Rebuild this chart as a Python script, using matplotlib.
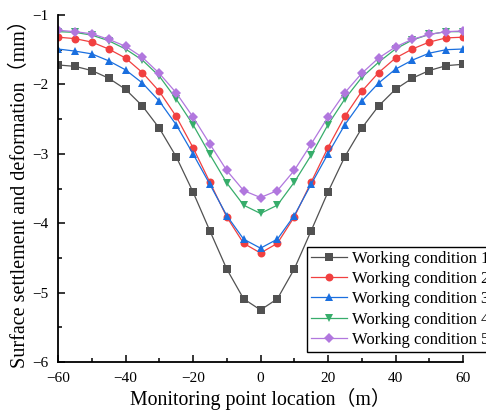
import matplotlib
matplotlib.use("Agg")
import matplotlib.pyplot as plt
from matplotlib.ticker import MultipleLocator

plt.rcParams['font.family'] = ['Liberation Serif', 'Noto Sans CJK SC']
plt.rcParams['mathtext.fontset'] = 'stix'

x = [-60, -55, -50, -45, -40, -35, -30, -25, -20, -15, -10, -5, 0,
     5, 10, 15, 20, 25, 30, 35, 40, 45, 50, 55, 60]

wc1 = [-1.72, -1.74, -1.80, -1.91, -2.07, -2.31, -2.63, -3.04, -3.55, -4.11, -4.66, -5.09, -5.25,
       -5.09, -4.66, -4.11, -3.55, -3.04, -2.63, -2.31, -2.07, -1.91, -1.80, -1.73, -1.71]
wc2 = [-1.32, -1.34, -1.39, -1.49, -1.62, -1.83, -2.10, -2.46, -2.91, -3.41, -3.91, -4.29, -4.43,
       -4.29, -3.91, -3.41, -2.91, -2.46, -2.10, -1.83, -1.62, -1.49, -1.39, -1.33, -1.32]
wc3 = [-1.49, -1.52, -1.56, -1.66, -1.79, -1.98, -2.24, -2.58, -3.00, -3.44, -3.89, -4.23, -4.36,
       -4.23, -3.89, -3.44, -3.00, -2.58, -2.24, -1.98, -1.78, -1.65, -1.55, -1.50, -1.49]
wc4 = [-1.24, -1.25, -1.29, -1.37, -1.49, -1.65, -1.88, -2.21, -2.58, -3.01, -3.42, -3.74, -3.86,
       -3.74, -3.41, -3.02, -2.58, -2.21, -1.90, -1.68, -1.49, -1.36, -1.28, -1.24, -1.24]
wc5 = [-1.22, -1.24, -1.27, -1.35, -1.45, -1.61, -1.84, -2.12, -2.47, -2.86, -3.24, -3.53, -3.63,
       -3.53, -3.24, -2.86, -2.47, -2.12, -1.84, -1.62, -1.46, -1.35, -1.28, -1.24, -1.23]

labels = ['Working condition 1', 'Working condition 2', 'Working condition 3',
          'Working condition 4', 'Working condition 5']
series = [wc1, wc2, wc3, wc4, wc5]
colors = ['#515151', '#F14040', '#1A6FDF', '#37AD6B', '#B177DE']
markers = ['s', 'o', '^', 'v', 'D']
msizes = [5.2, 5.7, 5.9, 5.9, 4.9]

fig = plt.figure(figsize=(4.86, 4.12), dpi=100)
ax = fig.add_axes([58/486, 1-362/412, (463-58)/486, (362-15)/412])

handles = []
for y, c, m, ms, lab in zip(series, colors, markers, msizes, labels):
    h, = ax.plot(x, y, color=c, marker=m, markersize=ms, linewidth=0.9, label=lab,
                 markeredgewidth=0)
    handles.append(h)

ax.set_xlim(-60, 60)
ax.set_ylim(-6, -1)
ax.xaxis.set_major_locator(MultipleLocator(20))
ax.xaxis.set_minor_locator(MultipleLocator(10))
ax.yaxis.set_major_locator(MultipleLocator(1))
ax.yaxis.set_minor_locator(MultipleLocator(0.5))
for s in ['top', 'right']:
    ax.spines[s].set_visible(False)
for s in ['left', 'bottom']:
    ax.spines[s].set_linewidth(1.3)
ax.tick_params(which='both', direction='in', width=1.1, labelsize=11)
ax.tick_params(which='major', length=5)
ax.tick_params(which='minor', length=3)
ax.tick_params(axis='x', which='major', pad=7.5)
ax.tick_params(axis='y', which='major', pad=6.5)

ax.set_xlabel('Monitoring point location（m）', fontsize=14.3, labelpad=2)
ax.set_ylabel('Surface settlement and deformation（mm）', fontsize=14.5, labelpad=2)

leg = fig.legend(handles=handles, labels=labels, loc='upper left',
                 bbox_to_anchor=(307/486, 1-247/412), fontsize=12,
                 frameon=True, fancybox=False, edgecolor='black', framealpha=1,
                 handlelength=2.2, handletextpad=0.3, labelspacing=0.26,
                 borderpad=0.22, borderaxespad=0)
leg.get_frame().set_linewidth(1.0)

fig.savefig('out.png', dpi=100)
